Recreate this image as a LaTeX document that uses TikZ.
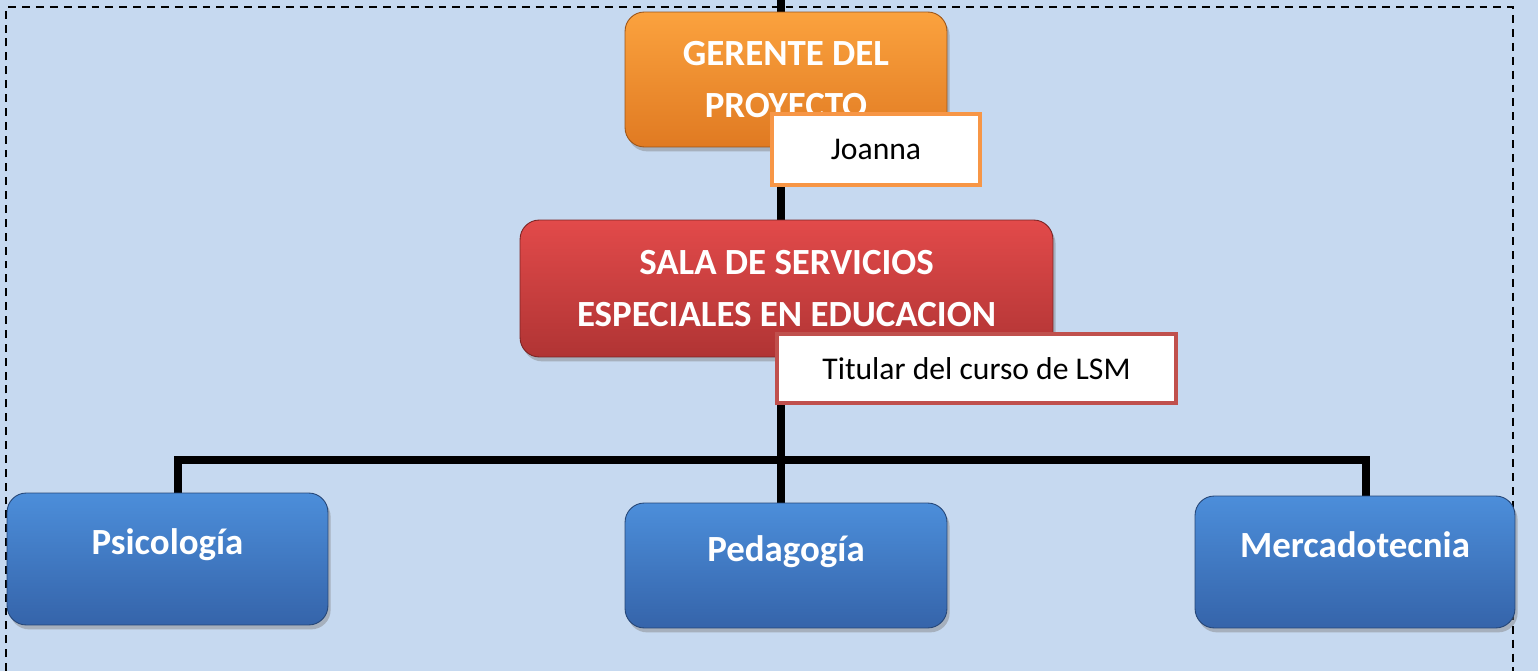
\documentclass[tikz,border=0pt]{standalone}
\usepackage{fontspec}
\setmainfont{Carlito}
\usetikzlibrary{shadows}
\pgfdeclarelayer{background}
\pgfsetlayers{background,main}
\definecolor{fondo}{HTML}{C6D9F0}
\definecolor{naranjaA}{HTML}{FBA23E}
\definecolor{naranjaB}{HTML}{E07A22}
\definecolor{rojoA}{HTML}{E24A4A}
\definecolor{rojoB}{HTML}{B03434}
\definecolor{azulA}{HTML}{4C8EDA}
\definecolor{azulB}{HTML}{3564AA}
\definecolor{bordeN}{HTML}{F79646}
\definecolor{bordeR}{HTML}{C0504D}

\begin{document}
\begin{tikzpicture}[x=0.02cm, y=-0.02cm]
  \tikzset{caja/.style={rectangle, rounded corners=11pt, draw=#1B!70!black, line width=0.5pt,
                        top color=#1A, bottom color=#1B, text=white, align=center,
                        font=\fontsize{21}{29.5}\selectfont\bfseries,
                        drop shadow={shadow xshift=1.5pt, shadow yshift=-2.5pt, opacity=0.45}},
           area/.style={caja=azul, text height=14pt, text depth=19pt},
           nombre/.style={rectangle, fill=white, draw=#1, line width=2.3pt,
                          font=\fontsize{18}{21}\selectfont},
           conn/.style={line width=4.5pt, black}}
  \useasboundingbox (0,0) rectangle (1538,671);

  \node[caja=naranja, minimum width=6.44cm, minimum height=2.7cm] (gerente) at (786,79.5) {GERENTE DEL\\PROYECTO};
  \node[nombre=bordeN, minimum width=4.16cm, minimum height=1.42cm] (joanna) at (876,149.5) {Joanna};
  \node[caja=rojo, minimum width=10.66cm, minimum height=2.74cm] (sala) at (786.5,288.5) {SALA DE SERVICIOS\\ESPECIALES EN EDUCACION};
  \node[nombre=bordeR, minimum width=7.98cm, minimum height=1.38cm] (lsm) at (976.5,368.5) {Titular del curso de LSM};
  \node[area, minimum width=6.42cm, minimum height=2.64cm] (psico) at (167.5,559) {Psicología};
  \node[area, minimum width=6.44cm, minimum height=2.5cm] (peda) at (786,565.5) {Pedagogía};
  \node[area, minimum width=6.4cm, minimum height=2.64cm] (merca) at (1355,562) {Mercadotecnia};

  \coordinate (arriba) at (781,0);
  \coordinate (busL) at (178,460);
  \coordinate (busR) at (1366,460);
  \begin{pgfonlayer}{background}
    \fill[fondo] (0,0) rectangle (1538,671);
    \draw[line width=1.2pt, dash pattern=on 4.5pt off 3.4pt] (6,671) |- (1513,7) -- (1513,671);
    \draw[conn] (arriba) -- (gerente.north -| arriba);
    \draw[conn] (gerente.south -| arriba) -- (sala.north -| arriba);
    \draw[conn] (sala.south -| arriba) -- (peda.north -| arriba);
    \draw[conn] (psico.north -| busL) |- (busR) -- (merca.north -| busR);
  \end{pgfonlayer}
\end{tikzpicture}
\end{document}
